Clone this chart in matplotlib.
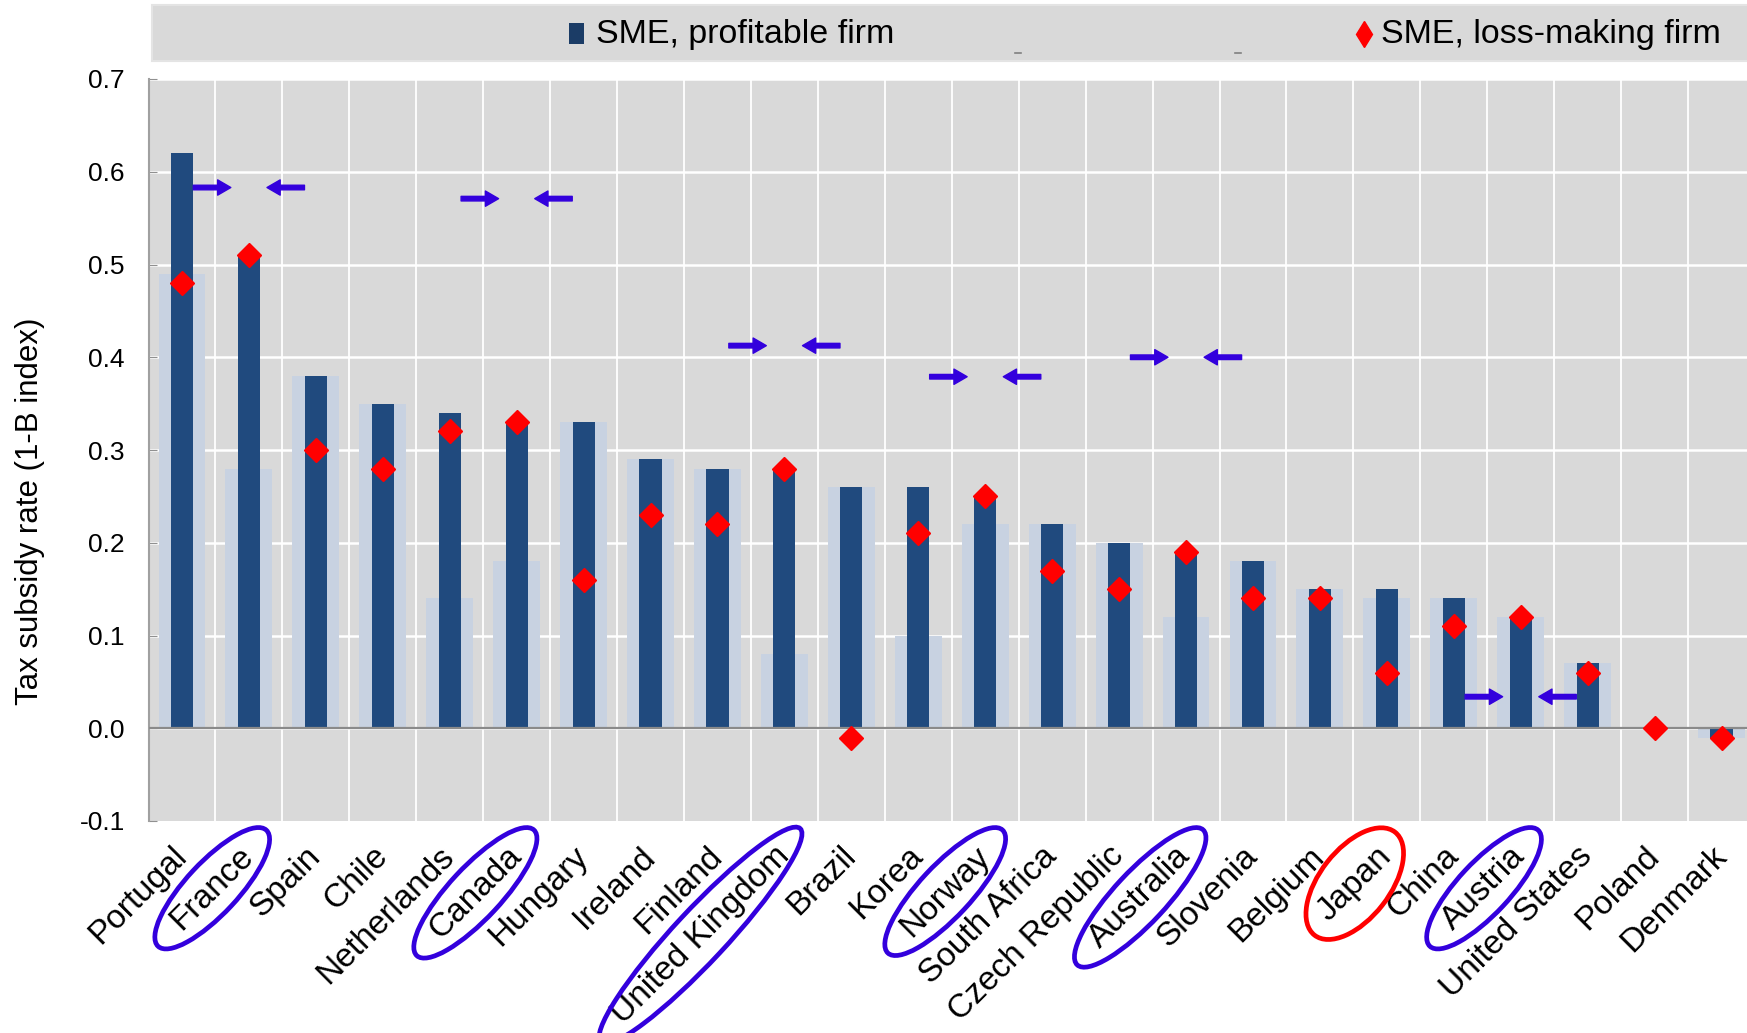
import matplotlib
matplotlib.use("Agg")
import matplotlib.pyplot as plt
from matplotlib.patches import Ellipse, Rectangle
from matplotlib.transforms import IdentityTransform
from matplotlib.font_manager import FontProperties
from matplotlib.lines import Line2D

plt.rcParams['font.family'] = ['Liberation Sans', 'DejaVu Sans']

countries = ["Portugal", "France", "Spain", "Chile", "Netherlands", "Canada",
             "Hungary", "Ireland", "Finland", "United Kingdom", "Brazil", "Korea",
             "Norway", "South Africa", "Czech Republic", "Australia", "Slovenia",
             "Belgium", "Japan", "China", "Austria", "United States", "Poland",
             "Denmark"]

# SME, profitable firm (dark bars)
sme_profit = [0.62, 0.51, 0.38, 0.35, 0.34, 0.33, 0.33, 0.29, 0.28, 0.28, 0.26, 0.26,
              0.25, 0.22, 0.20, 0.19, 0.18, 0.15, 0.15, 0.14, 0.12, 0.07, 0.00, -0.01]
# Large firm, profitable (pale background bars)
large_profit = [0.49, 0.28, 0.38, 0.35, 0.14, 0.18, 0.33, 0.29, 0.28, 0.08, 0.26, 0.10,
                0.22, 0.22, 0.20, 0.12, 0.18, 0.15, 0.14, 0.14, 0.12, 0.07, 0.00, -0.01]
# SME, loss-making firm (diamonds)
sme_loss = [0.48, 0.51, 0.30, 0.28, 0.32, 0.33, 0.16, 0.23, 0.22, 0.28, -0.01, 0.21,
            0.25, 0.17, 0.15, 0.19, 0.14, 0.14, 0.06, 0.11, 0.12, 0.06, 0.00, -0.01]

# Highlighted countries and the level of their pointer arrows
marked = ["France", "Canada", "United Kingdom", "Norway", "Australia", "Austria"]
arrow_level = [0.583, 0.571, 0.4125, 0.379, 0.40, 0.034]
focus = "Japan"

yticks = [-0.1, 0.0, 0.1, 0.2, 0.3, 0.4, 0.5, 0.6, 0.7]

DARK = "#204A7E"
PALE = "#C8D2E1"
BG = "#D9D9D9"
MARK = "#3300DD"

W, H = 1747, 1033
fig = plt.figure(figsize=(W / 100, H / 100), dpi=100)
ax = fig.add_axes([148.5 / W, 212 / H, 1606.5 / W, 742 / H])
ax.set_facecolor(BG)

x = list(range(len(countries)))
ax.bar(x, large_profit, width=0.70, color=PALE, zorder=2)
ax.bar(x, sme_profit, width=0.33, color=DARK, zorder=3)
ax.plot(x, sme_loss, linestyle="none", marker="D", markersize=12.5,
        color="#FF0000", zorder=5)

ax.set_xlim(-0.5, len(countries) - 0.5)
ax.set_ylim(-0.1, 0.7)
ax.set_yticks(yticks)
ax.set_yticklabels([f"{v:.1f}" for v in yticks], fontsize=19)

# grid: white lines between categories and at each tick
for k in range(len(countries) - 1):
    ax.axvline(k + 0.5, color="white", linewidth=1.3, zorder=1)
for v in yticks[1:]:
    ax.axhline(v, color="white", linewidth=1.8, zorder=1)
ax.axhline(0, color="#8A8A8A", linewidth=1.6, zorder=4)

for s in ["top", "right", "bottom"]:
    ax.spines[s].set_visible(False)
ax.spines["left"].set_color("#A0A0A0")
ax.spines["left"].set_linewidth(1.5)
ax.tick_params(axis="y", direction="in", length=6, color="#909090", pad=17)
ax.tick_params(axis="x", length=0, pad=22)

ax.set_xticks(x)
ax.set_xticklabels(countries, rotation=45, ha="right", va="center",
                   rotation_mode="anchor", fontsize=24)

fig.text(30 / W, 1 - 511 / H, "Tax subsidy rate (1-B index)", rotation=90,
         ha="center", va="center", fontsize=22.5)

# arrows pointing at highlighted bars from both sides
for name, lvl in zip(marked, arrow_level):
    i = countries.index(name)
    for tail, tip in ((i - 0.83, i - 0.27), (i + 0.83, i + 0.27)):
        ax.annotate("", xy=(tip, lvl), xytext=(tail, lvl),
                    arrowprops=dict(arrowstyle="simple,head_length=0.95,head_width=1.1,tail_width=0.33",
                                    color=MARK, mutation_scale=10, shrinkA=0, shrinkB=0),
                    zorder=6)

# legend band
fig.add_artist(Rectangle((152 / W, 1 - 61 / H), 1 - 152 / W + 0.01, 56 / H,
                         transform=fig.transFigure, facecolor=BG,
                         edgecolor="#E4E4E4", linewidth=1.5))
fig.add_artist(Rectangle((569, H - 44), 15, 21, transform=IdentityTransform(),
                         facecolor="#1B3C66", edgecolor="none"))
fig.text(596 / W, 1 - 35 / H, "SME, profitable firm", fontsize=24.5,
         ha="left", va="center")
fig.add_artist(Line2D([1364 / W], [1 - 34 / H], marker="d", markersize=13,
                      color="#FF0000", linestyle="none", transform=fig.transFigure))
fig.text(1381 / W, 1 - 35 / H, "SME, loss-making firm", fontsize=24.5,
         ha="left", va="center")
for px in (1018, 1238):
    fig.add_artist(Line2D([(px - 3) / W, (px + 3) / W], [1 - 53 / H] * 2,
                          color="#808080", linewidth=1.2, transform=fig.transFigure))

# ellipses around highlighted country names
fig.canvas.draw()
renderer = fig.canvas.get_renderer()
labels = ax.get_xticklabels()
for lab in labels:
    name = lab.get_text()
    if name not in marked and name != focus:
        continue
    bb = lab.get_window_extent(renderer)
    cx, cy = (bb.x0 + bb.x1) / 2, (bb.y0 + bb.y1) / 2
    fp = FontProperties(family=lab.get_fontfamily(), size=lab.get_fontsize())
    tw, th, _ = renderer.get_text_width_height_descent(name, fp, ismath=False)
    if name == focus:
        e = Ellipse((cx, cy), tw + 40, 70, angle=52, fill=False,
                    edgecolor="#FF0000", linewidth=3.4, transform=IdentityTransform())
    else:
        e = Ellipse((cx, cy), tw + 55, 52, angle=47, fill=False,
                    edgecolor=MARK, linewidth=3.4, transform=IdentityTransform())
    fig.add_artist(e)

fig.savefig("out.png", dpi=100, facecolor="white")
